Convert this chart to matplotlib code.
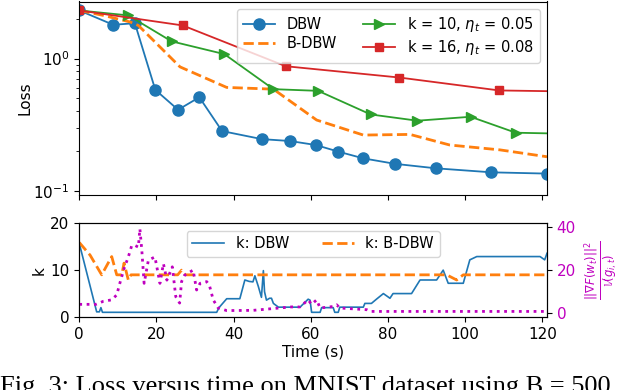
import matplotlib
matplotlib.use("Agg")
import matplotlib.pyplot as plt
import numpy as np

# ---------------- data: top panel (loss vs time) ----------------
t_dbw = [0, 8.8, 14.4, 19.7, 25.6, 31.1, 37.0, 47.3, 54.6, 61.3, 67.1, 73.6, 81.8, 92.4, 106.8, 121.1]
loss_dbw = [2.31, 1.80, 1.85, 0.58, 0.41, 0.51, 0.283, 0.246, 0.238, 0.222, 0.198, 0.176, 0.160, 0.148, 0.138, 0.135]

t_bdbw = [0, 6.2, 13.2, 15.3, 26.1, 38.2, 50.3, 61.5, 73.6, 85.7, 96.0, 109.0, 121.2]
loss_bdbw = [2.31, 2.12, 1.89, 1.78, 0.865, 0.605, 0.587, 0.343, 0.264, 0.267, 0.222, 0.204, 0.181]

t_k10 = [0, 12.7, 23.9, 37.6, 50.3, 61.9, 75.5, 87.6, 101.4, 113.1, 121.2]
loss_k10 = [2.31, 2.12, 1.35, 1.08, 0.587, 0.570, 0.378, 0.339, 0.363, 0.275, 0.272]

t_k16 = [0, 26.8, 53.5, 82.9, 108.8, 121.2]
loss_k16 = [2.31, 1.78, 0.875, 0.719, 0.574, 0.567]

# ---------------- data: bottom panel ----------------
t_kdbw = [0, 4.5, 5.2, 5.6, 6.0, 35.6, 36.2, 38.2, 41.6, 42.9, 44.0, 45.0, 45.5, 46.4, 47.2, 47.7,
          48.0, 48.5, 49.3, 49.8, 50.3, 51.6, 57.2, 59.3, 59.8, 60.2, 62.4, 62.8, 65.8, 66.2, 67.1,
          67.5, 73.6, 74.0, 75.7, 77.0, 78.8, 80.0, 80.5, 81.3, 86.1, 88.3, 92.6, 94.3, 95.6,
          99.5, 101.2, 103.0, 119.4, 120.6, 121.2]
k_dbw = [15.7, 1.1, 1.1, 2.0, 1.0, 1.0, 2.0, 3.9, 3.9, 7.9, 7.6, 7.5, 8.8, 6.5, 4.2, 9.9,
         5.4, 3.6, 4.0, 4.0, 2.9, 2.1, 2.1, 3.8, 3.6, 1.0, 1.0, 2.0, 2.0, 1.0, 1.0,
         2.1, 2.1, 2.9, 2.9, 3.8, 5.0, 4.3, 4.0, 5.0, 5.0, 7.9, 7.9, 10.0, 7.2,
         7.2, 12.2, 12.9, 12.9, 12.2, 13.6]

t_kbdbw = [0, 2.8, 5.8, 8.4, 9.7, 11.0, 11.6, 12.7, 13.4, 25.5, 26.5, 27.5, 95.2, 97.8, 99.5, 121.2]
k_bdbw = [15.9, 13.2, 9.0, 12.9, 9.0, 9.0, 11.5, 7.9, 9.0, 9.0, 10.0, 9.0, 9.0, 7.9, 9.0, 9.0]

t_ratio = [0, 4.3, 6.2, 8.4, 9.7, 10.5, 11.6, 12.7, 13.6, 14.4, 15.3, 15.7, 16.2, 16.8, 17.9, 19.6,
           20.9, 21.8, 22.7, 24.1, 25.0, 26.0, 26.5, 27.3, 29.5, 30.4, 31.3, 33.0, 33.7, 34.7, 36.0,
           38.2, 45.0, 50.0, 55.0, 57.2, 59.3, 60.2, 61.5, 62.4, 65.8, 66.7, 67.5, 74.5, 75.5, 121.2]
ratio = [4.0, 4.0, 5.4, 6.1, 8.4, 13.8, 20.7, 26.1, 31.5, 31.5, 30.7, 39.2, 29.2, 13.8, 24.6, 26.1,
         13.8, 23.0, 15.3, 21.5, 7.6, 4.6, 14.6, 17.6, 20.0, 10.7, 13.8, 14.6, 13.0, 6.1, 2.3,
         1.1, 1.2, 2.0, 2.8, 2.8, 6.1, 4.0, 6.1, 2.3, 3.0, 3.8, 2.3, 1.5, 0.7, 0.7]

# ---------------- figure ----------------
plt.rcParams['font.size'] = 11
fig = plt.figure(figsize=(6.28, 3.90), dpi=100)
L, R = 79.3 / 628, 547 / 628
ax1 = fig.add_axes([L, 1 - 195 / 390, R - L, (195 - 1.5) / 390])
ax2 = fig.add_axes([L, 1 - 317 / 390, R - L, (317 - 223.3) / 390], sharex=ax1)

ax1.plot(t_dbw, loss_dbw, '-o', color='#1f77b4', lw=1.3, ms=8, label='DBW')
ax1.plot(t_bdbw, loss_bdbw, '--', color='#ff7f0e', lw=2, label='B-DBW')
ax1.plot(t_k10, loss_k10, '->', color='#2ca02c', lw=1.3, ms=7,
         markevery=list(range(len(t_k10) - 1)), label=r'k = 10, $\eta_t$ = 0.05')
ax1.plot(t_k16, loss_k16, '-s', color='#d62728', lw=1.3, ms=6,
         markevery=list(range(len(t_k16) - 1)), label=r'k = 16, $\eta_t$ = 0.08')
ax1.set_yscale('log')
ax1.set_ylim(0.093, 2.7)
ax1.set_xlim(0, 121.2)
ax1.set_ylabel('Loss')
ax1.yaxis.set_label_coords(-0.10, 0.5)
ax1.tick_params(labelbottom=False)
ax1.legend(loc='upper right', ncol=2, fontsize=10.5, labelspacing=0.3, borderpad=0.4,
           handlelength=2.2, columnspacing=1.8)

ax2.plot(t_kdbw, k_dbw, '-', color='#1f77b4', lw=1.2, label='k: DBW')
ax2.plot(t_kbdbw, k_bdbw, '--', color='#ff7f0e', lw=2, label='k: B-DBW')
ax2.set_ylim(0, 20)
ax2.set_yticks([0, 10, 20])
ax2.set_xticks([0, 20, 40, 60, 80, 100, 120])
ax2.set_xlabel('Time (s)', labelpad=2)
ax2.set_ylabel('k')
ax2.yaxis.set_label_coords(-0.07, 0.5)
ax2.legend(loc='upper center', ncol=2, fontsize=10.5, borderpad=0.4, handlelength=2.2,
           columnspacing=2.2)

ax3 = ax2.twinx()
ax3.plot(t_ratio, ratio, ':', color='m', lw=2)
ax3.set_ylim(-1.9, 41.8)
ax3.set_yticks([0, 20, 40])
ax3.tick_params(axis='y', labelcolor='m')
ax3.set_ylabel(r'$\frac{||\nabla F(w_t)||^2}{\mathbb{V}(g_{i,t})}$', color='m', fontsize=12,
               labelpad=5)

fig.text(0.0, 1 - 375.5 / 390, 'Fig. 3: Loss versus time on MNIST dataset using B = 500',
         family='Liberation Serif', fontsize=19, va='top', ha='left')

fig.savefig('out.png', dpi=100)
